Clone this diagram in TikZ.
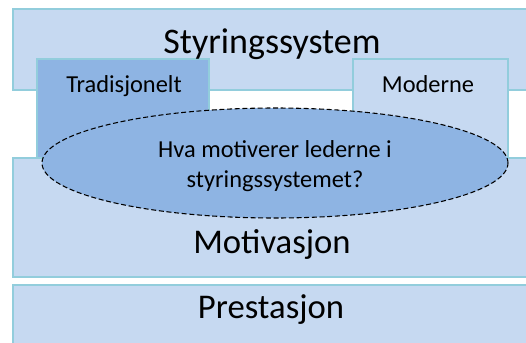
\documentclass[tikz,border=0pt]{standalone}
\usepackage{fontspec}
\setmainfont{Carlito}
\usetikzlibrary{shapes.geometric}
\definecolor{lightfill}{HTML}{C6D9F1}
\definecolor{darkfill}{HTML}{8EB4E3}
\definecolor{edgeaqua}{HTML}{92CDDC}
\tikzset{
  panel/.style={draw=edgeaqua, line width=1.5pt, fill=lightfill, rectangle, inner sep=0pt, anchor=north west},
  darkpanel/.style={panel, fill=darkfill},
  label/.style={anchor=base, inner sep=0pt, text=black},
  question/.style={ellipse, draw=black, dash pattern=on 3.75pt off 2pt, line width=0.8pt, fill=darkfill, inner sep=0pt}
}
\begin{document}
\begin{tikzpicture}[x=0.75pt, y=-0.75pt]
  \useasboundingbox (0,0) rectangle (526,343);
  \clip (0,0) rectangle (526,343);
  \fill[white] (0,0) rectangle (526,343);

  % control system band with its two sub-boxes
  \node[panel, minimum width=390pt, minimum height=60.75pt] (styring) at (12,8) {};
  \node[darkpanel, minimum width=129pt, minimum height=75pt] (trad) at (36,58) {};
  \node[panel, minimum width=116.25pt, minimum height=75pt] (moderne) at (352,58) {};

  % motivation and performance bands
  \node[panel, minimum width=390pt, minimum height=89.25pt] (motiv) at (12,157) {};
  \node[panel, minimum width=390pt, minimum height=60pt] (prest) at (12,284) {};

  % central question
  \node[question, minimum width=349.5pt, minimum height=82.5pt] (sporsmal) at (275,163) {};

  % texts
  \node[label, font=\fontsize{27}{31}\selectfont] (tStyring) at (272,53) {Styringssystem};
  \node[label, font=\fontsize{18.3}{22}\selectfont] (tTrad) at (124,92) {Tradisjonelt};
  \node[label, font=\fontsize{18.3}{22}\selectfont] (tModerne) at (428,92) {Moderne};
  \node[label, font=\fontsize{18.3}{22}\selectfont] (tQ1) at (275,157) {Hva motiverer lederne i};
  \node[label, font=\fontsize{18.3}{22}\selectfont] (tQ2) at (275,187) {styringssystemet?};
  \node[label, font=\fontsize{26}{30}\selectfont] (tMotiv) at (272,253) {Motivasjon};
  \node[label, font=\fontsize{26}{30}\selectfont] (tPrest) at (271,318) {Prestasjon};
\end{tikzpicture}
\end{document}
